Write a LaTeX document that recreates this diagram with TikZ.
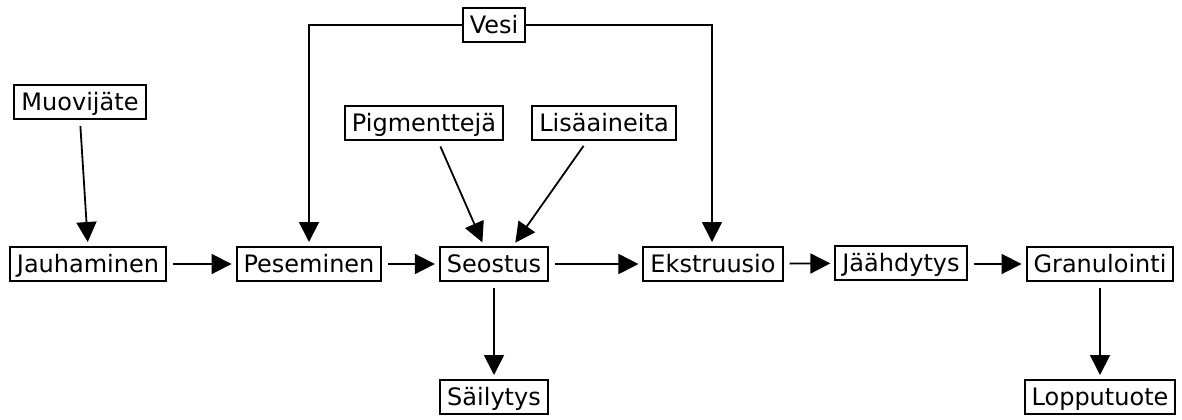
\documentclass[tikz,border=0pt]{standalone}
\usepackage{fontspec}
\setmainfont{DejaVu Sans}
\usepackage{tikz}
\usetikzlibrary{arrows.meta,positioning}
\tikzset{
  vaihe/.style={draw, line width=1pt, inner xsep=3.5pt, inner ysep=3pt,
    text height=9.5pt, text depth=1.5pt, font=\fontsize{12}{14}\selectfont},
  virta/.style={line width=0.9pt, -{Triangle[length=10pt,width=10pt]},
    shorten <=3pt, shorten >=2pt},
}
\begin{document}
\begin{tikzpicture}[
			x = 0.5pt,
			y = -0.5pt
			]

			\useasboundingbox (0,0) rectangle (1182,419);

			% paaketju
			\node[vaihe] (jauh) at (88,264) {Jauhaminen};
			\node[vaihe] (pese) at (309,264) {Peseminen};
			\node[vaihe] (seos) at (494,264) {Seostus};
			\node[vaihe] (ekst) at (713,264) {Ekstruusio};
			\node[vaihe] (jaah) at (901,263) {Jäähdytys};
			\node[vaihe] (gran) at (1100,264) {Granulointi};

			% syotot
			\node[vaihe] (muov) at (80,102) {Muovijäte};
			\node[vaihe] (vesi) at (494,25) {Vesi};
			\node[vaihe] (pigm) at (424,123) {Pigmenttejä};
			\node[vaihe] (lisa) at (604,123) {Lisäaineita};

			% tuotteet
			\node[vaihe] (sail) at (494,397) {Säilytys};
			\node[vaihe] (lopp) at (1100,397) {Lopputuote};

			\coordinate (vesiv) at (309,25);
			\coordinate (vesio) at (712,25);

			\draw[virta] (jauh) -- (pese);
			\draw[virta] (pese) -- (seos);
			\draw[virta] (seos) -- (ekst);
			\draw[virta] (ekst) -- (jaah);
			\draw[virta] (jaah.east |- gran) -- (gran);

			\draw[virta] (muov.south) -- (jauh.north);
			\draw[virta,shorten <=0pt] (vesi.west) -- (vesiv) -- (pese.north);
			\draw[virta,shorten <=0pt] (vesi.east) -- (vesio) -- (ekst.north -| vesio);
			\draw[virta] ([xshift=7pt]pigm.south) -- ([xshift=-5pt]seos.north);
			\draw[virta] ([xshift=-8.5pt]lisa.south) -- ([xshift=9.5pt]seos.north);

			\draw[virta] (seos) -- (sail);
			\draw[virta] (gran) -- (lopp);

		\end{tikzpicture}
\end{document}
